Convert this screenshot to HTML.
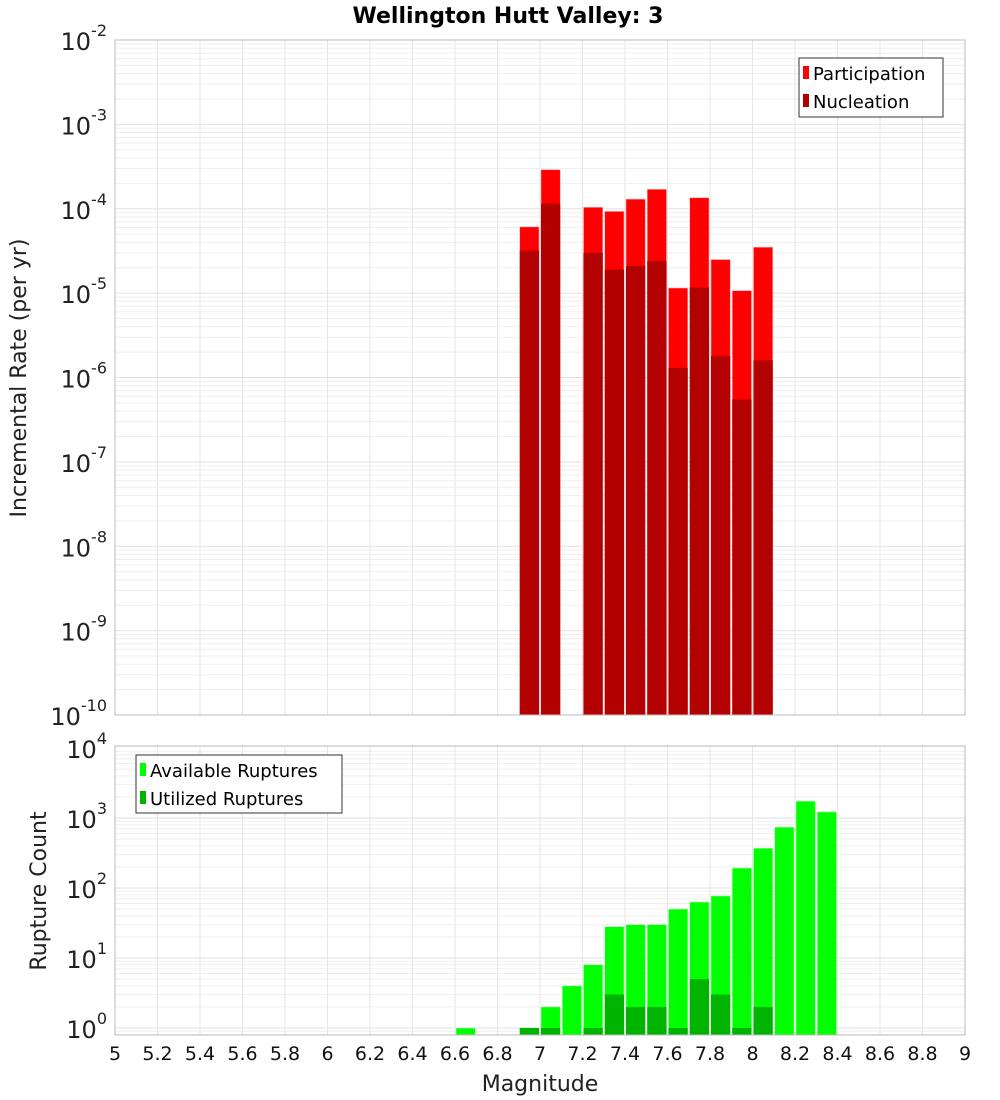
<!DOCTYPE html>
<html><head><meta charset="utf-8"><style>body{margin:0;background:#fff}svg{display:block;font-family:"DejaVu Sans","Liberation Sans",sans-serif}</style></head>
<body>
<svg id="chart" width="1000" height="1100"></svg>
<script>
const binStarts=[6.9,7.0,7.2,7.3,7.4,7.5,7.6,7.7,7.8,7.9,8.0];
const participation=[6.1e-5,2.9e-4,1.04e-4,9.3e-5,1.3e-4,1.7e-4,1.15e-5,1.35e-4,2.5e-5,1.07e-5,3.5e-5];
const nucleation=[3.2e-5,1.15e-4,3.0e-5,1.9e-5,2.1e-5,2.4e-5,1.3e-6,1.17e-5,1.8e-6,5.5e-7,1.6e-6];
const countBins=[6.6,6.9,7.0,7.1,7.2,7.3,7.4,7.5,7.6,7.7,7.8,7.9,8.0,8.1,8.2,8.3];
const available=[1,1,2,4,8,28,30,30,50,63,77,193,370,740,1740,1220];
const utilized=[0,1,1,0,1,3,2,2,1,5,3,1,2,0,0,0];
const xTicks=[5,5.2,5.4,5.6,5.8,6,6.2,6.4,6.6,6.8,7,7.2,7.4,7.6,7.8,8,8.2,8.4,8.6,8.8,9];
const topExps=[-10,-9,-8,-7,-6,-5,-4,-3,-2];
const botExps=[0,1,2,3,4];

const NS="http://www.w3.org/2000/svg",svg=document.getElementById('chart');
function el(t,a,p){const e=document.createElementNS(NS,t);for(const k in a)e.setAttribute(k,a[k]);(p||svg).appendChild(e);return e;}
const L=115,R=965;
const x=m=>L+(m-5)*(R-L)/4;
const T0=40,T1=715;
const yT=v=>T0+(-2-Math.log10(v))*(T1-T0)/8;
const B0=746,B1=1035;
const yB=v=>1028-70*Math.log10(v);

function grid(top,bot,yf,e0,e1,name){
  const g=el('g',{});
  
  for(let e=e0;e<=e1;e++)for(let k=1;k<10;k++){const yy=yf(k*Math.pow(10,e));if(yy<top-0.5||yy>bot+0.5)continue;
    el('line',{x1:L,x2:R,y1:yy,y2:yy,stroke:k==1?'#e2e2e2':'#efefef','stroke-width':1},g);}
  xTicks.forEach(t=>el('line',{x1:x(t),x2:x(t),y1:top,y2:bot,stroke:'#e6e6e6','stroke-width':1},g));
}
grid(T0,T1,yT,-10,-3,'top-grid');
grid(B0,B1,yB,-1,3,'bottom-grid');

const bw=(R-L)/40;
binStarts.forEach((m,i)=>{
  let r=el('rect',{x:x(m)+1,y:yT(participation[i]),width:bw-2,height:T1-yT(participation[i]),fill:'#ff0000',stroke:'#ffaaaa','stroke-width':0.6});
  
  r=el('rect',{x:x(m)+1,y:yT(nucleation[i]),width:bw-2,height:T1-yT(nucleation[i]),fill:'#b30000'});
  
});
countBins.forEach((m,i)=>{
  if(available[i]>0){const r=el('rect',{x:x(m)+1,y:yB(available[i]),width:bw-2,height:B1-yB(available[i]),fill:'#00ff00',stroke:'#aaffaa','stroke-width':0.6});
  }
  if(utilized[i]>0){const r=el('rect',{x:x(m)+1,y:yB(utilized[i]),width:bw-2,height:B1-yB(utilized[i]),fill:'#00b300'});
  }
});
el('rect',{x:L,y:T0,width:R-L,height:T1-T0,fill:'none',stroke:'#bbb'});
el('rect',{x:L,y:B0,width:R-L,height:B1-B0,fill:'none',stroke:'#bbb'});

function expLabel(yy,e,name){
  const t=el('text',{x:L-8,y:yy+10,'text-anchor':'end','font-size':24,fill:'#222'});
  
  const a=el('tspan',{},t);a.textContent='10';
  const b=el('tspan',{dy:-14,'font-size':16},t);b.textContent=e;
}
topExps.forEach(e=>expLabel(yT(Math.pow(10,e)),e,'top-y-tick-label'));
botExps.forEach(e=>expLabel(yB(Math.pow(10,e)),e,'bottom-y-tick-label'));
xTicks.forEach(t=>{const tx=el('text',{x:x(t),y:1060,'text-anchor':'middle','font-size':19,fill:'#111'});
  
  tx.textContent=String(t);});
</script>
<svg width="0" height="0"></svg>
<div style="position:absolute;left:0;top:0;width:1000px;height:1100px;pointer-events:none">
<svg width="1000" height="1100" style="font-family:'DejaVu Sans','Liberation Sans',sans-serif">
<text x="508" y="23" text-anchor="middle" font-size="22" font-weight="bold">Wellington Hutt Valley: 3</text>
<text transform="translate(26,378) rotate(-90)" text-anchor="middle" font-size="22" fill="#222">Incremental Rate (per yr)</text>
<text transform="translate(46,891) rotate(-90)" text-anchor="middle" font-size="22" fill="#222">Rupture Count</text>
<text x="540" y="1091" text-anchor="middle" font-size="22" fill="#222">Magnitude</text>
<g>
<rect x="799" y="58" width="144" height="59" fill="#fff" stroke="#333"/>
<rect x="803" y="66" width="6" height="13" fill="#ff0000"/>
<text x="813" y="80" font-size="18">Participation</text>
<rect x="803" y="94" width="6" height="13" fill="#b30000"/>
<text x="813" y="108" font-size="18">Nucleation</text>
</g>
<g>
<rect x="136" y="755" width="206" height="58" fill="#fff" stroke="#333"/>
<rect x="140" y="763" width="6" height="13" fill="#00ff00"/>
<text x="150" y="777" font-size="18">Available Ruptures</text>
<rect x="140" y="791" width="6" height="13" fill="#00b300"/>
<text x="150" y="805" font-size="18">Utilized Ruptures</text>
</g>
</svg></div>
</body></html>
